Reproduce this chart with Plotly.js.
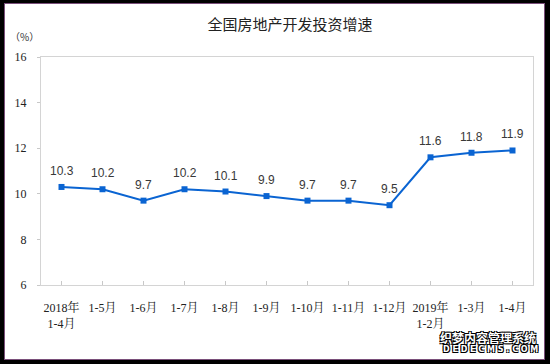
<!DOCTYPE html>
<html><head><meta charset="utf-8">
<script src="https://cdn.plot.ly/plotly-3.0.1.min.js"></script>
<style>
html,body{margin:0;padding:0;background:#000;width:550px;height:364px;overflow:hidden}
#frame{position:absolute;left:4px;top:3px;width:539px;height:355px;border:1px solid #7a4f7a;background:#fff}
#chart{width:539px;height:355px}
</style></head>
<body><div id="frame"><div id="chart"></div></div>
<script>
var categories = ['2018年<br>1-4月','1-5月','1-6月','1-7月','1-8月','1-9月','1-10月','1-11月','1-12月','2019年<br>1-2月','1-3月','1-4月'];
var growth = [10.3, 10.2, 9.7, 10.2, 10.1, 9.9, 9.7, 9.7, 9.5, 11.6, 11.8, 11.9];
var yTicks = [6, 8, 10, 12, 14, 16];
var titleText = '全国房地产开发投资增速';
var unitText = '（%）';

var idx = categories.map(function(_, i){ return i; });
var labelAnns = growth.map(function(v, i){
  return {x: i, y: v, xref: 'x', yref: 'y', text: v.toFixed(1), showarrow: false,
    yshift: 16, font: {family: 'Liberation Sans, Arial, sans-serif', size: 12, color: '#383838'}};
});

var trace = {
  x: idx, y: growth, type: 'scatter', mode: 'lines+markers',
  line: {color: '#0a64d2', width: 2},
  marker: {symbol: 'square', size: 6, color: '#0a64d2'},
  hoverinfo: 'skip'
};

var layout = {
  width: 539, height: 355,
  margin: {l: 36, r: 11, t: 53, b: 74},
  paper_bgcolor: '#fff', plot_bgcolor: '#fff',
  showlegend: false,
  title: {text: titleText, x: 0.529, xanchor: 'center', y: 1 - 21/355, yanchor: 'middle', yref: 'container',
    font: {family: 'Noto Sans CJK SC, sans-serif', size: 15, color: '#222'}},
  xaxis: {
    range: [-0.5, 11.5], tickmode: 'array', tickvals: idx, ticktext: categories,
    showgrid: false, zeroline: false, showline: true, mirror: true, linecolor: '#d4d4d4', linewidth: 1,
    ticks: 'inside', tickson: 'boundaries', ticklen: 4, tickcolor: '#c8c8c8', ticklabelstandoff: 12,
    tickfont: {family: 'Liberation Serif, Noto Serif CJK SC, Noto Sans CJK SC, serif', size: 12, color: '#222'}
  },
  yaxis: {
    range: [6, 16], tickmode: 'array', tickvals: yTicks,
    showgrid: false, zeroline: false, showline: true, mirror: true, linecolor: '#d4d4d4', linewidth: 1,
    ticks: 'outside', ticklen: 3, tickcolor: '#c8c8c8', ticklabelstandoff: 8,
    tickfont: {family: 'Liberation Serif, serif', size: 12, color: '#222'}
  },
  annotations: labelAnns.concat([
    {xref: 'paper', yref: 'paper', x: -36/492 + 19/492, y: 1 + (53-32)/228, text: unitText, showarrow: false,
     xanchor: 'center', yanchor: 'middle', font: {family: 'Noto Sans CJK SC, sans-serif', size: 10, color: '#333'}},
    {xref: 'paper', yref: 'paper', x: (488-41)/492, y: -(337-285)/228, text: '<b>织梦内容管理系统</b>', showarrow: false,
     xanchor: 'center', yanchor: 'middle',
     font: {family: 'Noto Sans CJK SC, sans-serif', size: 12, color: '#fff',
       shadow: '1px 1px 0 #000, -1px -1px 0 #000, 1px -1px 0 #000, -1px 1px 0 #000'}},
    {xref: 'paper', yref: 'paper', x: (490-41)/492, y: -(349-285)/228, text: '<b>D E D E C M S . C O M</b>', showarrow: false,
     xanchor: 'center', yanchor: 'middle',
     font: {family: 'DejaVu Sans, sans-serif', size: 8, color: '#fff',
       shadow: '1px 1px 0 #000, -1px -1px 0 #000, 1px -1px 0 #000, -1px 1px 0 #000'}}
  ])
};

Plotly.newPlot('chart', [trace], layout, {displayModeBar: false, staticPlot: true});
</script></body></html>
